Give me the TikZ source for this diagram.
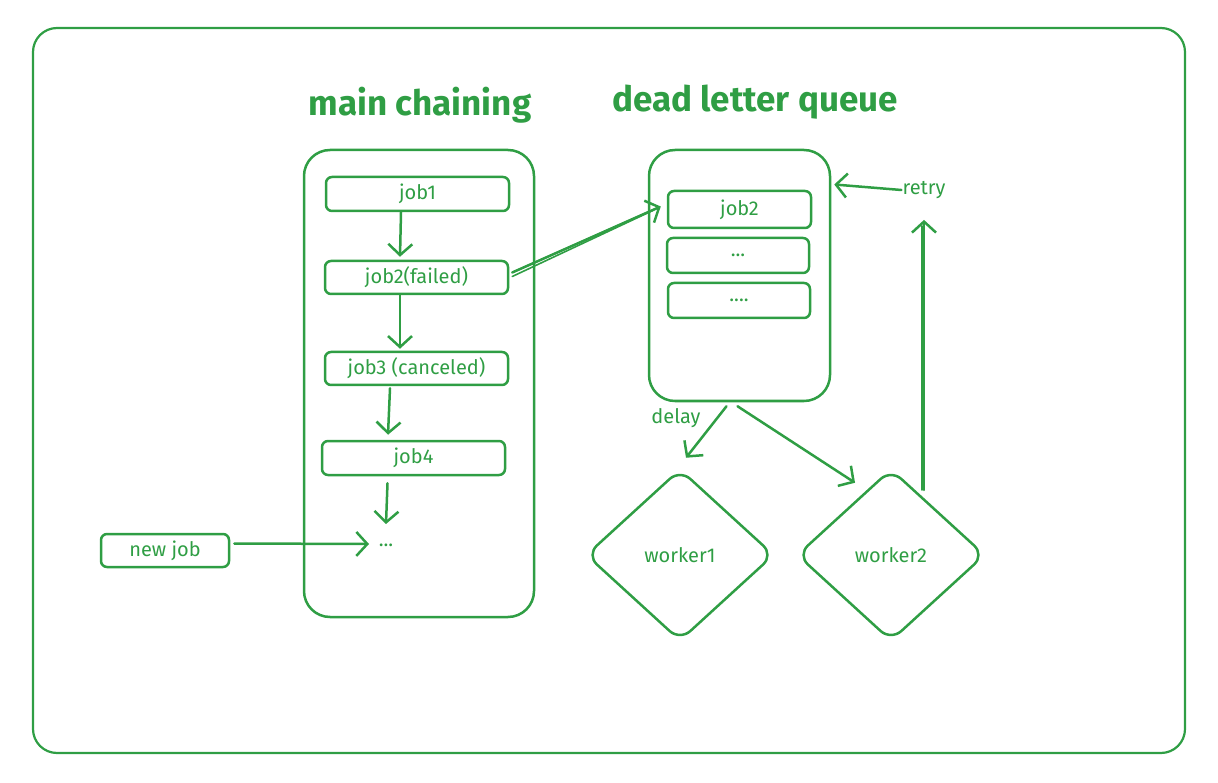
\documentclass[tikz,border=0pt]{standalone}
\usepackage{fontspec}
\setmainfont{Fira Sans}
\usetikzlibrary{arrows.meta,shapes.geometric}
\definecolor{ex}{HTML}{2F9E44}
\begin{document}
\begin{tikzpicture}[x=1pt,y=-1pt,
  frame/.style={draw=ex, line width=2.2pt, rounded corners=24pt, inner sep=0pt},
  container/.style={draw=ex, line width=2.5pt, rounded corners=26pt, inner sep=0pt},
  jobbox/.style={draw=ex, line width=2.5pt, rounded corners=6pt, inner sep=0pt, text=ex, font=\fontsize{20}{22}\selectfont},
  lbl/.style={text=ex, inner sep=1pt, font=\fontsize{20}{22}\selectfont},
  title/.style={text=ex, inner sep=0pt, font=\fontsize{35}{38}\selectfont\bfseries},
  worker/.style={draw=ex, line width=2.5pt, diamond, minimum width=188pt, minimum height=172pt, rounded corners=14pt, inner sep=0pt, text=ex, font=\fontsize{20}{22}\selectfont},
  arr/.style={draw=ex, line width=2.5pt, line cap=round, -{Straight Barb[length=11pt,width=24pt,line width=2.5pt]}},
  plain/.style={draw=ex, line width=1.6pt, line cap=round}]
\useasboundingbox (0,0) rectangle (1218,783);
\node[frame, minimum width=1152pt, minimum height=725pt] (outer) at (609,390.5) {};
\node[title] (t1) at (420,105) {main chaining};
\node[title] (t2) at (755,102) {dead letter queue};
% main chain
\node[container, minimum width=230pt, minimum height=467pt] (main) at (419,383.5) {};
\node[jobbox, minimum width=183pt, minimum height=34pt] (job1) at (417.5,194) {job1};
\node[jobbox, minimum width=183pt, minimum height=33pt] (job2f) at (416.5,277.5) {job2(failed)};
\node[jobbox, minimum width=183pt, minimum height=33pt] (job3) at (416.5,368.5) {job3 (canceled)};
\node[jobbox, minimum width=183pt, minimum height=34pt] (job4) at (413.5,458) {job4};
\node[lbl] (dots) at (386,545) {...};
\node[jobbox, minimum width=128pt, minimum height=33pt] (newjob) at (165,550.5) {new job};
\coordinate (dotsin) at (386,524);
\coordinate (dotsw) at (369,544);
\draw[arr] ([xshift=-16.5pt]job1.south) -- ([xshift=-16.5pt,yshift=3pt]job2f.north);
\draw[arr] ([xshift=-16.5pt]job2f.south) -- ([xshift=-16.5pt,yshift=2pt]job3.north);
\draw[arr] ([xshift=-26.5pt,yshift=-2pt]job3.south) -- ([xshift=-25.5pt,yshift=5pt]job4.north);
\draw[arr] ([xshift=-26pt,yshift=-7pt]job4.south) -- (dotsin);
\draw[arr] ([xshift=4pt,yshift=7pt]newjob.east) -- (dotsw);
% dead letter queue
\node[container, minimum width=181pt, minimum height=251pt] (dlq) at (739.5,275.5) {};
\node[jobbox, minimum width=143pt, minimum height=37pt] (d1) at (739.5,209.5) {job2};
\node[jobbox, minimum width=142pt, minimum height=35pt] (d2) at (738,255.5) {...};
\node[jobbox, minimum width=142pt, minimum height=35pt] (d3) at (739,300.5) {....};
\draw[arr] ([xshift=3pt,yshift=5pt]job2f.east) -- ([xshift=-6pt,yshift=3pt]d1.west);
\draw[plain] ([xshift=3pt,yshift=1pt]job2f.east) -- ([xshift=-14pt,yshift=-1pt]d1.west);
\node[lbl] (retry) at (924,190) {retry};
\draw[arr] (retry.west) -- ([xshift=3pt,yshift=91pt]dlq.east);
% workers
\node[worker] (w1) at (680,555) {worker1};
\node[worker] (w2) at (891,555) {worker2};
\node[lbl] (delay) at (676,418) {delay};
\draw[arr] ([xshift=-13pt,yshift=-4pt]dlq.south) -- ([xshift=6pt,yshift=10pt]w1.north);
\draw[arr] ([xshift=-2pt,yshift=-4pt]dlq.south) -- ([xshift=-36pt,yshift=-15pt]w2.north);
\coordinate (w2top) at (924,490);
\draw[arr] (w2top) -- ([yshift=-20pt]retry.south);
\draw[plain] ([xshift=-2pt]w2top) -- ([xshift=-2pt,yshift=-26pt]retry.south);
\end{tikzpicture}
\end{document}
